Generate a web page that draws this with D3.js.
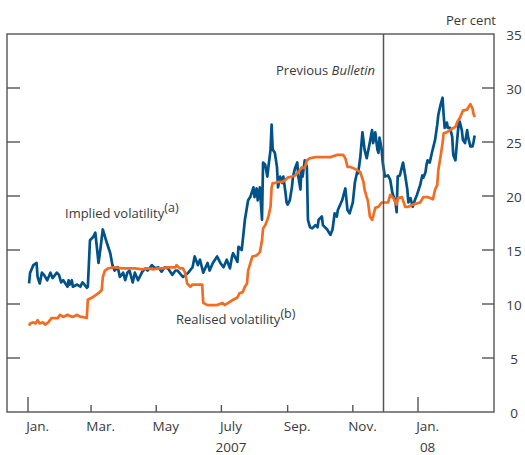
<!DOCTYPE html>
<html>
<head>
<meta charset="utf-8">
<script src="https://cdn.jsdelivr.net/npm/d3@7"></script>
<style>
  html, body { margin: 0; padding: 0; background: #ffffff; }
  svg { display: block; }
  text { font-family: "Open Sans", "Noto Sans", sans-serif; fill: #3a3a3a; }
</style>
</head>
<body>
<svg id="chart" width="525" height="455"></svg>
<script>
// ---- Data (day offsets from 1 Jan 2007, values in per cent) ----
const impliedDays = [1,2,5,8,9,11,13,15,18,21,23,27,29,31,33,37,38,39,41,42,46,49,51,52,55,56,58,61,63,66,67,70,74,77,79,81,84,86,89,91,93,95,98,100,103,107,110,112,116,119,122,125,128,131,135,138,140,145,150,154,156,159,161,164,168,170,173,177,180,183,186,189,191,192,196,197,200,201,203,206,208,211,212,214,215,217,219,220,222,224,225,227,228,229,231,233,234,236,238,239,241,242,243,245,247,248,250,252,253,255,256,257,259,261,262,264,266,269,271,272,275,276,280,283,285,287,289,290,294,297,299,301,304,306,308,309,311,313,315,317,320,322,323,325,327,328,329,331,332,334,337,339,341,344,345,346,348,350,351,353,355,356,358,360,362,364,367,369,370,372,373,374,376,378,379,381,383,384,386,388,389,390,392,393,395,397,398,400,402,403,404,406,407,409,411,412,414,416,417,418];
const impliedValues = [11.9,12.9,13.6,13.8,12.5,11.9,12.9,12.7,12.2,12.9,12.4,12.9,12.7,12.0,12.2,11.6,12.2,11.8,12.2,11.6,11.8,11.6,12.0,11.9,11.5,11.6,15.9,16.2,16.6,13.8,14.5,16.9,15.6,14.7,13.6,13.1,13.4,12.5,12.9,12.2,12.9,13.1,12.0,12.9,12.2,13.0,13.3,13.1,13.6,13.3,13.4,13.0,13.4,13.3,12.7,13.1,13.1,12.5,12.9,13.4,14.4,13.6,14.1,12.9,13.8,13.1,13.8,14.4,13.8,13.4,14.1,13.3,14.4,14.7,13.9,15.3,15.0,15.9,17.8,19.6,19.9,20.8,19.9,20.7,19.6,20.8,17.8,23.1,22.9,21.8,22.7,24.3,26.6,24.3,24.0,22.7,20.8,21.8,21.2,21.8,20.3,19.4,19.2,19.6,20.8,21.8,22.6,23.1,21.8,20.6,22.6,21.8,23.3,22.7,17.8,17.1,17.0,17.3,17.1,17.8,18.1,17.3,16.9,16.4,16.9,18.4,18.1,18.7,19.6,20.7,18.7,18.4,19.4,21.3,22.2,22.1,23.6,25.9,24.3,23.5,25.0,26.1,24.9,25.9,24.3,24.0,25.4,24.3,23.1,21.8,21.9,21.5,20.3,19.4,18.5,21.8,21.9,22.7,23.1,21.9,20.6,19.4,19.8,19.0,19.6,20.1,21.0,21.9,21.7,22.2,22.9,23.3,23.1,24.0,24.4,25.2,26.6,27.5,28.4,29.1,27.5,26.3,26.8,26.3,26.3,25.5,23.8,23.3,25.6,26.6,26.9,26.1,25.2,24.9,26.1,25.4,24.6,24.6,25.0,25.6];

const realisedDays = [1,2,5,7,9,11,14,16,19,22,25,28,30,33,37,39,42,46,49,51,55,56,60,63,66,69,70,72,75,81,88,94,100,107,112,117,122,126,131,138,139,142,145,147,149,152,154,158,163,164,168,172,177,182,184,189,192,196,198,201,203,205,206,210,214,217,219,220,222,224,225,227,228,229,231,234,238,241,243,247,250,253,256,259,261,264,269,275,283,289,295,297,299,301,304,308,311,314,315,317,318,320,322,323,325,328,331,334,337,339,342,345,346,350,353,356,360,367,370,374,379,381,383,384,386,388,389,392,395,398,400,402,404,407,411,412,414,416,417,418];
const realisedValues = [8.0,8.2,8.3,8.2,8.5,8.2,8.3,8.1,8.3,8.7,8.7,8.7,9.0,8.8,9.0,8.9,8.8,9.0,8.8,8.8,8.7,10.4,10.6,10.8,11.0,11.3,12.5,13.1,13.3,13.4,13.3,13.3,13.3,13.2,13.3,13.2,13.3,13.3,13.4,13.4,13.6,13.3,13.3,12.9,11.9,11.6,11.8,11.8,11.8,10.1,9.9,9.9,9.9,10.1,9.9,10.2,10.4,10.6,11.0,11.1,11.6,11.9,13.1,14.4,14.5,14.8,15.9,17.0,17.3,17.8,18.1,19.0,20.8,21.2,21.2,21.3,21.3,21.5,21.7,21.8,21.9,22.2,22.6,22.6,23.3,23.5,23.6,23.6,23.6,23.8,23.8,23.5,22.7,22.7,22.6,22.4,22.2,21.3,20.6,19.9,19.6,18.1,17.8,18.1,18.9,19.0,19.4,19.4,19.4,20.1,19.8,19.2,19.8,19.9,19.0,19.0,19.2,19.4,19.9,19.9,19.7,20.6,21.0,22.4,23.6,24.9,25.8,25.9,26.1,26.3,26.4,26.9,27.2,27.9,28.0,28.2,28.5,28.1,27.6,27.3];

const monthTicks = ["2007-01-01","2007-03-01","2007-05-01","2007-07-01","2007-09-01","2007-11-01","2008-01-01"];
const monthLabels = ["Jan.","Mar.","May","July","Sep.","Nov.","Jan."];
const yearLabels = ["2007","08"];
const yearLabelDates = ["2007-07-10","2008-01-10"];
const yTicks = [0,5,10,15,20,25,30,35];
const previousBulletinDate = "2007-11-29";

// ---- Layout ----
const pLeft = 7, pRight = 494, pTop = 34, pBottom = 412;
const blue = "#005289", orange = "#f36c21", frameCol = "#555555";

const parse = d3.timeParse("%Y-%m-%d");
const base = parse("2007-01-01");
const x = d3.scaleTime().domain([parse("2007-01-01"), parse("2008-01-01")]).range([28, 418]);
const y = d3.scaleLinear().domain([0, 35]).range([pBottom, pTop]);

const svg = d3.select("#chart");

const implied = impliedDays.map((d, i) => ({date: d3.timeDay.offset(base, d), v: impliedValues[i]}));
const realised = realisedDays.map((d, i) => ({date: d3.timeDay.offset(base, d), v: realisedValues[i]}));

const line = d3.line().x(d => x(d.date)).y(d => y(d.v));

svg.append("path").datum(implied)
  .attr("d", line).attr("fill", "none").attr("stroke", blue)
  .attr("stroke-width", 2.7).attr("stroke-linejoin", "round");
svg.append("path").datum(realised)
  .attr("d", line).attr("fill", "none").attr("stroke", orange)
  .attr("stroke-width", 2.7).attr("stroke-linejoin", "round");

// Previous Bulletin line
const pbx = Math.round(x(parse(previousBulletinDate))) + 0.5;
svg.append("line").attr("x1", pbx).attr("x2", pbx).attr("y1", pTop).attr("y2", pBottom)
  .attr("stroke", frameCol).attr("stroke-width", 1.5);

// Frame
svg.append("rect").attr("x", pLeft).attr("y", pTop).attr("width", pRight - pLeft).attr("height", pBottom - pTop)
  .attr("fill", "none").attr("stroke", frameCol).attr("stroke-width", 1.4);

// Y ticks (inward both sides) and right labels
const yInner = yTicks.filter(t => t > 0 && t < 35);
svg.selectAll(".ytl").data(yInner).enter().append("line")
  .attr("x1", pLeft).attr("x2", pLeft + 13).attr("y1", d => y(d)).attr("y2", d => y(d))
  .attr("stroke", frameCol).attr("stroke-width", 1.4);
svg.selectAll(".ytr").data(yInner).enter().append("line")
  .attr("x1", pRight - 12).attr("x2", pRight).attr("y1", d => y(d)).attr("y2", d => y(d))
  .attr("stroke", frameCol).attr("stroke-width", 1.4);
svg.selectAll(".ylab").data(yTicks).enter().append("text")
  .attr("x", 514).attr("y", d => y(d) + 6).attr("text-anchor", "middle")
  .attr("font-size", 13.5).text(d => d);

// X ticks
svg.selectAll(".xt").data(monthTicks).enter().append("line")
  .attr("x1", d => x(parse(d))).attr("x2", d => x(parse(d)))
  .attr("y1", pBottom).attr("y2", d => parse(d).getMonth() === 0 ? pBottom - 15 : pBottom - 7)
  .attr("stroke", frameCol).attr("stroke-width", 1.4);
svg.selectAll(".xl").data(monthTicks).enter().append("text")
  .attr("x", d => x(d3.timeDay.offset(parse(d), 9))).attr("y", 431)
  .attr("text-anchor", "middle").attr("font-size", 13.5)
  .text((d, i) => monthLabels[i]);
svg.selectAll(".yl").data(yearLabelDates).enter().append("text")
  .attr("x", d => x(parse(d))).attr("y", 452)
  .attr("text-anchor", "middle").attr("font-size", 13.5)
  .text((d, i) => yearLabels[i]);

// Annotations
svg.append("text").attr("x", 496).attr("y", 25).attr("text-anchor", "end")
  .attr("font-size", 13).text("Per cent");

const pb = svg.append("text").attr("x", 375).attr("y", 75).attr("text-anchor", "end").attr("font-size", 13);
pb.append("tspan").text("Previous ");
pb.append("tspan").attr("font-style", "italic").text("Bulletin");

const iv = svg.append("text").attr("x", 65).attr("y", 218).attr("font-size", 13);
iv.append("tspan").text("Implied volatility");
iv.append("tspan").attr("font-size", 12.5).attr("dy", -6).text("(a)");

const rv = svg.append("text").attr("x", 176).attr("y", 324).attr("font-size", 13);
rv.append("tspan").text("Realised volatility");
rv.append("tspan").attr("font-size", 12.5).attr("dy", -6).text("(b)");
</script>
</body>
</html>
